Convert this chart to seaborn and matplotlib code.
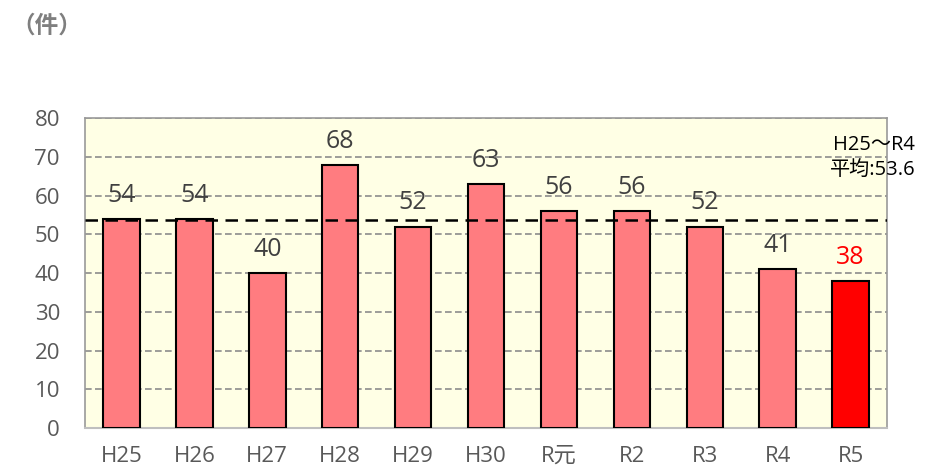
import pandas as pd
import seaborn as sns
import matplotlib.pyplot as plt

# データ
years = ["H25", "H26", "H27", "H28", "H29", "H30", "R元", "R2", "R3", "R4", "R5"]
counts = [54, 54, 40, 68, 52, 63, 56, 56, 52, 41, 38]
average = 53.6
bar_colors = ["#FF7C80"] * 10 + ["#FF0000"]
label_colors = ["#404040"] * 10 + ["#FF0000"]

sns.set_style("white")
plt.rcParams["font.family"] = ["Open Sans", "Noto Sans CJK JP", "DejaVu Sans"]

df = pd.DataFrame({"year": years, "count": counts})

fig = plt.figure(figsize=(9.37, 4.76), dpi=100)
ax = fig.add_axes([0.0907, 0.1008, 0.856, 0.651])
ax.set_facecolor("#FFFFE5")

sns.barplot(
    data=df,
    x="year",
    y="count",
    hue="year",
    palette=bar_colors,
    saturation=1,
    width=0.5,
    edgecolor="black",
    linewidth=1.5,
    legend=False,
    ax=ax,
    zorder=3,
)

# 棒の上に値
for p, c in zip(ax.patches, label_colors):
    ax.annotate(
        format(int(p.get_height()), "d"),
        (p.get_x() + p.get_width() / 2.0, p.get_height()),
        ha="center",
        va="bottom",
        xytext=(0, 8),
        textcoords="offset points",
        fontsize=18,
        color=c,
    )

# 平均線
ax.axhline(average, color="black", linestyle=(0, (5, 3)), linewidth=1.8, zorder=4)
ax.text(
    1.035, 0.945, "H25～R4\n平均:53.6",
    transform=ax.transAxes, ha="right", va="top",
    fontsize=14.5, color="black", linespacing=1.35, zorder=5, clip_on=False,
)

ax.set_ylim(0, 80)
ax.set_xlim(-0.5, len(years) - 0.5)
ax.set_yticks(range(0, 81, 10))
ax.yaxis.grid(True, color="#8C8C8C", linestyle=(0, (4, 2)), linewidth=1.2, zorder=0)
ax.xaxis.grid(False)
ax.set_axisbelow(True)
ax.set_xlabel("")
ax.set_ylabel("")
ax.tick_params(axis="both", labelsize=16, colors="#595959", length=0)
ax.tick_params(axis="y", pad=18)
ax.tick_params(axis="x", pad=13)

for s in ["left", "right", "top"]:
    ax.spines[s].set_color("#999999")
    ax.spines[s].set_linewidth(1.2)
ax.spines["bottom"].set_color("#BFBFBF")
ax.spines["bottom"].set_linewidth(1.5)

fig.text(0.012, 0.943, "（件）", fontsize=17, color="#7F7F7F", ha="left", va="center",
         fontweight="bold")

plt.savefig("out.png", dpi=100)
